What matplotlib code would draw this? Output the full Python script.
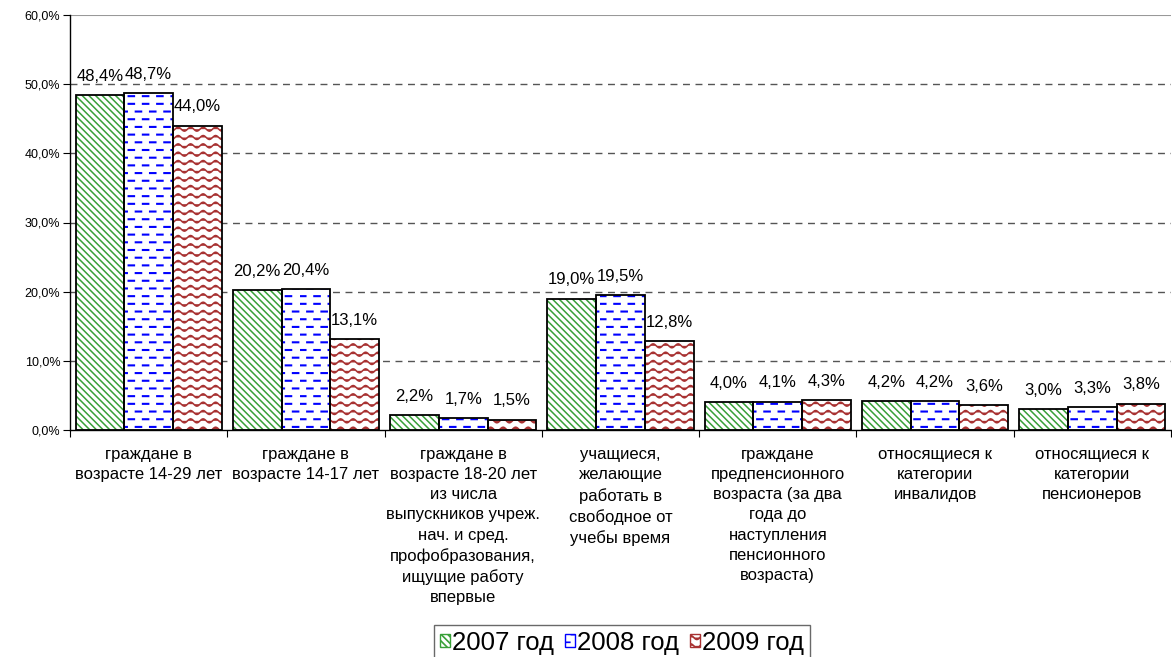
import warnings
import numpy as np
import matplotlib
matplotlib.use("Agg")
import matplotlib.pyplot as plt
from matplotlib import hatch as mhatch
from matplotlib.path import Path
from matplotlib.patches import Patch

warnings.filterwarnings("ignore")

categories = [
    "граждане в\nвозрасте 14-29 лет",
    "граждане в\nвозрасте 14-17 лет",
    "граждане в\nвозрасте 18-20 лет\nиз числа\nвыпускников учреж.\nнач. и сред.\nпрофобразования,\nищущие работу\nвпервые",
    "учащиеся,\nжелающие\nработать в\nсвободное от\nучебы время",
    "граждане\nпредпенсионного\nвозраста (за два\nгода до\nнаступления\nпенсионного\nвозраста)",
    "относящиеся к\nкатегории\nинвалидов",
    "относящиеся к\nкатегории\nпенсионеров",
]
years = ["2007 год", "2008 год", "2009 год"]
v2007 = [48.4, 20.2, 2.2, 19.0, 4.0, 4.2, 3.0]
v2008 = [48.7, 20.4, 1.7, 19.5, 4.1, 4.2, 3.3]
v2009 = [44.0, 13.1, 1.5, 12.8, 4.3, 3.6, 3.8]
yticks = [0, 10, 20, 30, 40, 50, 60]


# extra hatch patterns: short staggered dashes ('d') and waves ('w')
class DashHatch(mhatch.HatchPatternBase):
    def __init__(self, hatch, density):
        self.rows, self.cols = 13, 7
        self.num_vertices = self.rows * self.cols * 2 if 'd' in hatch else 0

    def set_vertices_and_codes(self, vertices, codes):
        k = 0
        for r in range(self.rows):
            y = (r + 0.5) / self.rows
            shift = 0.5 / self.cols if r % 2 else 0.0
            for c in range(self.cols):
                x0 = c / self.cols + shift
                vertices[k] = (x0, y)
                vertices[k + 1] = (x0 + 0.055, y)
                codes[k] = Path.MOVETO
                codes[k + 1] = Path.LINETO
                k += 2


class WaveHatch(mhatch.HatchPatternBase):
    def __init__(self, hatch, density):
        self.rows, self.waves, self.pts = 12, 8, 97
        self.num_vertices = self.rows * self.pts if 'w' in hatch else 0

    def set_vertices_and_codes(self, vertices, codes):
        x = np.linspace(0, 1, self.pts)
        for r in range(self.rows):
            sl = slice(r * self.pts, (r + 1) * self.pts)
            vertices[sl, 0] = x
            vertices[sl, 1] = (r + 0.5) / self.rows + 0.02 * np.sin(2 * np.pi * self.waves * x)
            codes[sl] = Path.LINETO
            codes[r * self.pts] = Path.MOVETO


mhatch._hatch_types.extend([DashHatch, WaveHatch])

plt.rcParams['font.family'] = ['Liberation Sans', 'DejaVu Sans']
plt.rcParams['hatch.linewidth'] = 1.2

fig = plt.figure(figsize=(11.72, 6.57), dpi=100)
ax = fig.add_axes([70 / 1172, 1 - 430 / 657, 1101 / 1172, 415 / 657])

x = np.arange(len(categories))
w = 0.31
series = [v2007, v2008, v2009]
colors = ['#38a038', '#0000ff', '#a83232']
hatches = ['\\\\\\\\\\', 'd', 'w']
hatch_lw = [1.1, 1.5, 1.1]

for i, (vals, col, h) in enumerate(zip(series, colors, hatches)):
    pos = x + (i - 1) * w
    bars = ax.bar(pos, vals, w, color='white', edgecolor=col, hatch=h, linewidth=0, zorder=2)
    for b in bars:
        if hasattr(b, 'set_hatch_linewidth'):
            b.set_hatch_linewidth(hatch_lw[i])
    ax.bar(pos, vals, w, fill=False, edgecolor='black', linewidth=1.3, zorder=3)
    for px, v in zip(pos, vals):
        ax.annotate(f"{v:.1f}%".replace('.', ','), (px, v), xytext=(0, 13.5),
                    textcoords='offset points', ha='center', va='center', fontsize=12)

ax.set_xlim(-0.5, len(categories) - 0.5)
ax.set_ylim(0, 60)
ax.set_yticks(yticks)
ax.set_yticklabels([f"{t:.1f}%".replace('.', ',') for t in yticks], fontsize=9)
for t in yticks[1:-1]:
    ax.axhline(t, color='#555555', linestyle=(0, (5, 4)), linewidth=1, zorder=1)
ax.axhline(60, color='#999999', linewidth=1.5, zorder=1)

ax.set_xticks(np.arange(len(categories) + 1) - 0.5)
ax.set_xticklabels([])
ax.set_xticks(x, minor=True)
ax.set_xticklabels(categories, minor=True, fontsize=12, linespacing=1.42)
ax.tick_params(axis='x', which='minor', length=0, pad=12.5)
ax.tick_params(axis='x', which='major', length=5, direction='out')
ax.tick_params(axis='y', length=5, direction='out', pad=2)

for s in ['top', 'right']:
    ax.spines[s].set_visible(False)
ax.spines['left'].set_linewidth(1)
ax.spines['bottom'].set_linewidth(1)

handles = [Patch(facecolor='white', edgecolor=c, hatch=h, linewidth=1) for c, h in zip(colors, hatches)]
leg = fig.legend(handles, years, loc='upper left', bbox_to_anchor=(434 / 1172, 1 - 625 / 657),
                 ncol=3, fontsize=18.5, frameon=True, fancybox=False, edgecolor='#444444',
                 handlelength=0.4, handleheight=0.4, handletextpad=0.08, columnspacing=0.42,
                 borderpad=0.22, borderaxespad=0)
leg.get_frame().set_linewidth(1)

fig.savefig("out.png", dpi=100)
